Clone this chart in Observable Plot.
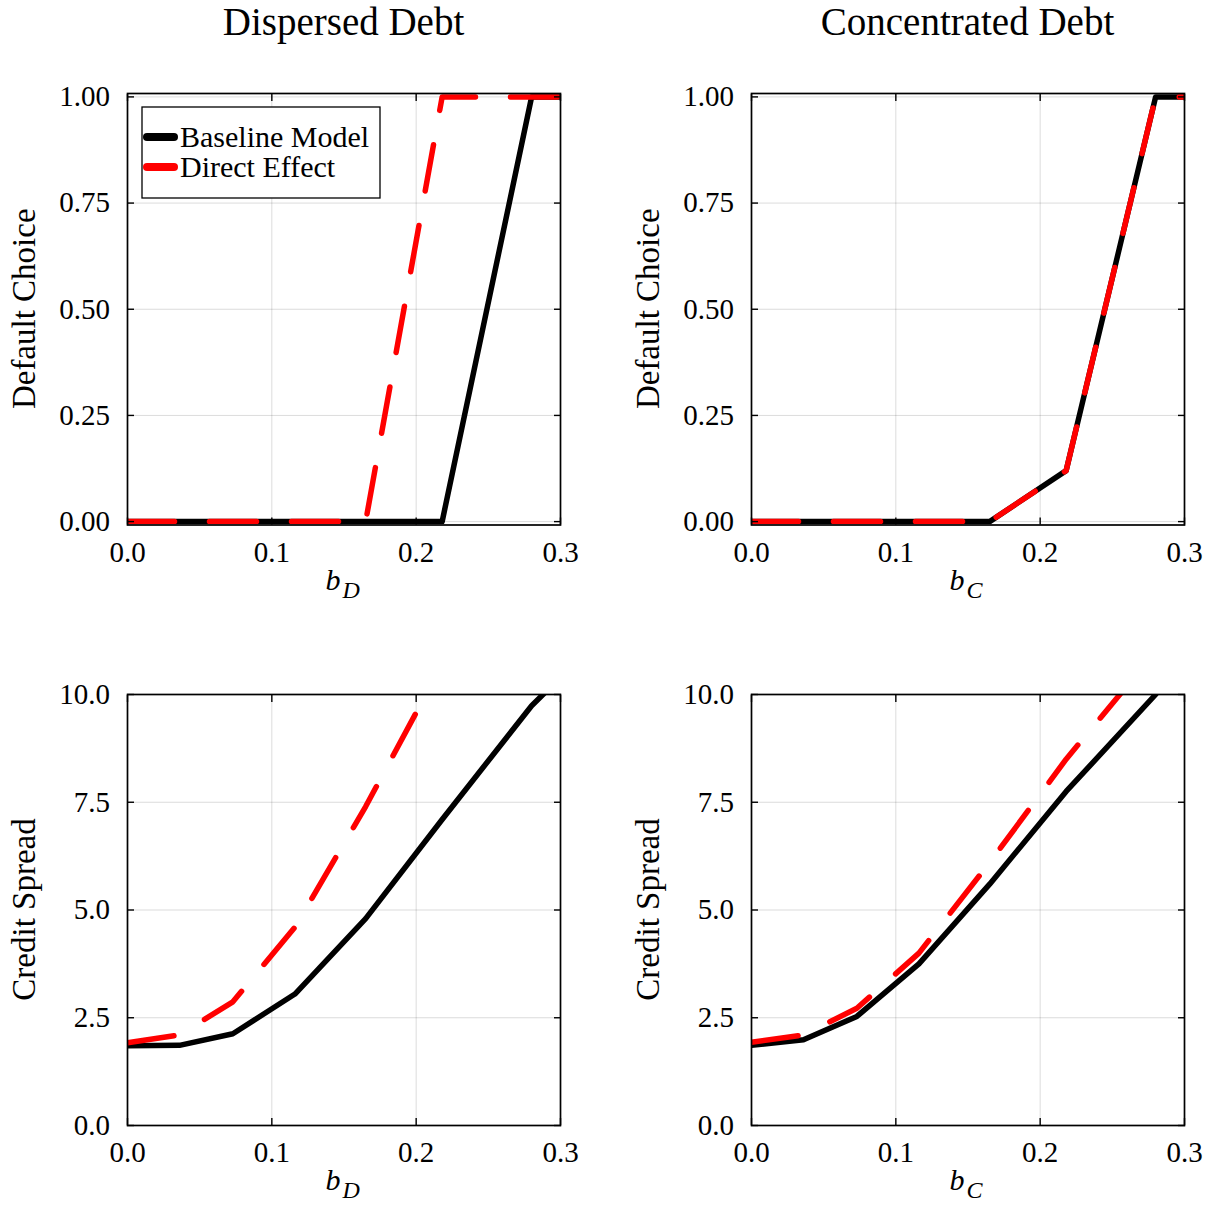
<!DOCTYPE html>
<html><head><meta charset="utf-8">
<script src="https://cdn.jsdelivr.net/npm/d3@7"></script>
<script src="https://cdn.jsdelivr.net/npm/@observablehq/plot@0.6"></script>
<style>
body{margin:0;background:#fff;}
#wrap{position:relative;width:1216px;height:1205px;font-family:"Liberation Serif",serif;overflow:hidden;}
.panel{position:absolute;}
#overlay{position:absolute;left:0;top:0;pointer-events:none;}
</style></head><body><div id="wrap"></div>
<script>
// ---- data ----
const bGrid = [0, 0.036, 0.073, 0.116, 0.165, 0.218, 0.28, 0.3];
const defaultDispersedBaseline = [0, 0, 0, 0, 0, 0, 1, 1];
const defaultDispersedDirect   = [0, 0, 0, 0, 0, 1, 1, 1];
const defaultConcBaseline      = [0, 0, 0, 0, 0, 0.12, 1, 1];
const defaultConcDirect        = [0, 0, 0, 0, 0, 0.12, 1, 1];
const spreadDispersedBaseline  = [1.85, 1.86, 2.13, 3.05, 4.8, 7.1, 9.74, 10.4];
const spreadDispersedDirect    = [1.92, 2.1, 2.87, 4.6, 7.4, 10.7];
const spreadConcBaseline       = [1.86, 1.99, 2.53, 3.75, 5.6, 7.75, 10.0];
const spreadConcDirect         = [1.93, 2.1, 2.72, 4.0, 6.1, 8.5, 11.0];
const xTicks = [0, 0.1, 0.2, 0.3];
const defaultTicks = [0, 0.25, 0.5, 0.75, 1];
const spreadTicks = [0, 2.5, 5, 7.5, 10];
const colTitles = ["Dispersed Debt", "Concentrated Debt"];
const rowLabels = ["Default Choice", "Credit Spread"];
const xSubs = ["D", "C"];
const seriesNames = ["Baseline Model", "Direct Effect"];
const seriesColors = ["#000000", "#ff0000"];

const wrap = document.getElementById("wrap");
const zip = (xs, ys) => ys.map((y, i) => ({x: xs[i], y}));

function panel({left, top, width, height, mL, mR, mT, mB, yDomain, yTicks, yFmt, base, direct}) {
  const gridStyle = {stroke: "#000", strokeOpacity: 0.14, strokeWidth: 1};
  const lineStyle = {x: "x", y: "y", strokeWidth: 5.5, strokeLinecap: "round", strokeLinejoin: "round", clip: true};
  const p = Plot.plot({
    width, height, marginLeft: mL, marginRight: mR, marginTop: mT, marginBottom: mB,
    style: {fontFamily: "Liberation Serif, serif", fontSize: "29px", color: "#000", background: "transparent"},
    x: {domain: [0, 0.3]},
    y: {domain: yDomain},
    marks: [
      Plot.gridX(xTicks, gridStyle),
      Plot.gridY(yTicks, gridStyle),
      Plot.line(zip(bGrid, base), {...lineStyle, stroke: seriesColors[0]}),
      Plot.line(zip(bGrid, direct), {...lineStyle, stroke: seriesColors[1], strokeDasharray: "47,35"}),
      Plot.frame({stroke: "#000", strokeWidth: 1.7}),
      Plot.axisX(xTicks, {anchor: "bottom", tickSize: -7, tickPadding: 23, tickFormat: d3.format(".1f"), label: null, strokeWidth: 1.4}),
      Plot.axisX(xTicks, {anchor: "top", tickSize: -7, tickFormat: () => "", label: null, strokeWidth: 1.4}),
      Plot.axisY(yTicks, {anchor: "left", tickSize: -7, tickPadding: 24.5, tickFormat: yFmt, label: null, strokeWidth: 1.4}),
      Plot.axisY(yTicks, {anchor: "right", tickSize: -7, tickFormat: () => "", label: null, strokeWidth: 1.4})
    ]
  });
  const d = document.createElement("div");
  d.className = "panel";
  d.style.left = left + "px";
  d.style.top = top + "px";
  d.appendChild(p);
  wrap.appendChild(d);
}

const cols = [
  {left: 0, width: 608, mL: 127, mR: 48},
  {left: 608, width: 608, mL: 143, mR: 32}
];
const rows = [
  {top: 50, height: 570, mT: 43, mB: 95.5, yDomain: [-0.008, 1.008], yTicks: defaultTicks, yFmt: d3.format(".2f")},
  {top: 620, height: 585, mT: 74, mB: 80, yDomain: [0, 10], yTicks: spreadTicks, yFmt: d3.format(".1f")}
];
const series = [
  [[defaultDispersedBaseline, defaultDispersedDirect], [defaultConcBaseline, defaultConcDirect]],
  [[spreadDispersedBaseline, spreadDispersedDirect], [spreadConcBaseline, spreadConcDirect]]
];
rows.forEach((r, ri) => cols.forEach((c, ci) => {
  panel({...c, ...r, base: series[ri][ci][0], direct: series[ri][ci][1]});
}));

// ---- overlay text: titles, axis labels, legend ----
const svg = d3.select(wrap).append("svg").attr("id", "overlay")
  .attr("width", 1216).attr("height", 1205)
  .style("font-family", "Liberation Serif, serif");
const colCenters = [343.5, 967.5];
const rowFrames = [[93, 524.5], [694, 1125]];
const yLabelX = [35, 659];

colTitles.forEach((t, ci) => {
  svg.append("text").attr("x", colCenters[ci]).attr("y", 35)
    .attr("text-anchor", "middle").attr("font-size", 39).text(t);
});
rowFrames.forEach(([ft, fb], ri) => {
  colCenters.forEach((cx, ci) => {
    const t = svg.append("text").attr("x", cx - 18).attr("y", fb + 65)
      .attr("font-size", 30).attr("font-style", "italic");
    t.append("tspan").text("b");
    t.append("tspan").attr("font-size", 24).attr("dy", 8).attr("dx", 2).text(xSubs[ci]);
    svg.append("text")
      .attr("transform", `translate(${yLabelX[ci]},${(ft + fb) / 2}) rotate(-90)`)
      .attr("text-anchor", "middle").attr("font-size", 33).text(rowLabels[ri]);
  });
});

// legend (top-left panel)
const lg = svg.append("g");
lg.append("rect").attr("x", 142).attr("y", 107).attr("width", 238).attr("height", 91)
  .attr("fill", "#fff").attr("stroke", "#000").attr("stroke-width", 1.3);
seriesNames.forEach((name, i) => {
  const y = 137 + i * 30;
  lg.append("line").attr("x1", 147).attr("x2", 174).attr("y1", y).attr("y2", y)
    .attr("stroke", seriesColors[i]).attr("stroke-width", 8).attr("stroke-linecap", "round");
  lg.append("text").attr("x", 180).attr("y", y + 10).attr("font-size", 30).text(name);
});
</script></body></html>
